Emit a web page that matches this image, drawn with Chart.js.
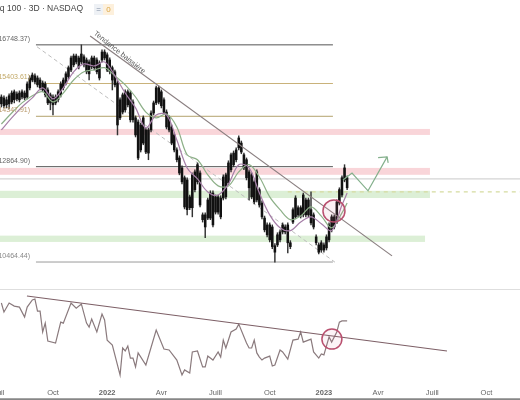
<!DOCTYPE html>
<html><head><meta charset="utf-8">
<style>html,body{margin:0;padding:0;background:#fff;overflow:hidden}canvas{display:block;filter:blur(.45px)}</style>
<script src="https://cdn.jsdelivr.net/npm/chart.js@4/dist/chart.umd.min.js"></script>
</head><body><canvas id="c" width="520" height="400" style="width:520px;height:400px"></canvas>
<script>
const bodyHigh=[14960,14930,14870,15000,15090,15130,15060,15090,15130,15090,15390,15590,15690,15660,15590,15520,15420,15390,15190,15030,14960,14960,15130,15390,15520,15730,15940,16280,16350,16350,16280,16420,16320,16210,16140,16280,16280,16210,16110,16490,16490,16390,16210,15940,15800,15420,14870,15030,15130,15130,15090,14800,14300,14170,14080,14300,13930,13930,14450,14770,15260,15260,15130,14870,14480,14300,14020,13780,13340,13110,12830,12560,12500,12050,12640,12720,12920,12690,11590,11590,11970,12150,12150,12050,12050,12020,12580,12640,12970,13200,13250,13340,13690,13540,13200,13060,12720,12640,12450,12720,12240,11890,11510,11340,11340,11290,10840,11100,11170,11340,11290,11340,10910,11720,12020,11770,11770,12100,11970,11970,11720,11590,11050,10860,10910,10860,11050,11340,11540,11540,11920,12240,12560,12830,12560];
const bodyLow=[14740,14680,14710,14740,14800,14870,14900,14870,14960,14930,14960,15260,15520,15460,15360,15260,15190,15030,14770,14770,14710,14770,14870,15030,15260,15420,15630,15860,16040,16140,15970,16140,16040,15800,15730,15970,15940,15800,15590,16210,16280,15860,15800,15520,15360,14080,14300,14480,14550,14710,14240,14240,13780,13110,13340,13540,13280,13250,13930,14450,14770,14800,14680,14480,14020,13930,13540,13340,13060,12690,12450,11790,11720,11770,11770,12240,12450,11840,11470,11290,11510,11510,11340,11660,11660,11540,12020,12050,12420,12780,12920,13060,13400,13280,12830,12560,12290,12050,11920,11970,11840,11540,11220,11100,10980,10820,10690,10860,10980,11170,11170,10910,10820,11410,11540,11590,11560,11590,11590,11590,11390,11290,10910,10690,10740,10740,10790,10980,11220,11290,11410,11890,12100,12500,12290];
const highs=[15030,15000,14960,15060,15160,15190,15130,15160,15190,15160,15460,15660,15760,15730,15660,15590,15490,15460,15260,15090,15030,15030,15190,15460,15590,15800,16000,16350,16420,16420,16350,16750,16390,16280,16210,16350,16350,16280,16180,16570,16570,16460,16280,16000,15860,15490,14930,15090,15190,15190,15160,14870,14360,14240,14140,14360,13990,13990,14520,14830,15320,15320,15190,14930,14550,14360,14080,13840,13400,13170,12890,12610,12560,12100,12690,12780,12970,12750,11640,11640,12020,12210,12210,12100,12100,12080,12640,12690,13030,13250,13310,13400,13750,13600,13250,13110,12780,12690,12500,12780,12290,11950,11560,11390,11390,11340,10890,11150,11220,11390,11340,11390,10960,11770,12080,11820,11820,12150,12020,12020,12180,11640,11100,10910,10960,10910,11100,11390,11590,11590,11970,12290,12610,12920,12610];
const lows=[14640,14610,14610,14580,14740,14770,14830,14800,14900,14870,14900,15190,15460,15390,15290,15190,15130,14960,14710,14550,14390,14710,14800,14960,15190,15360,15560,15800,15970,16070,15900,16070,15970,15730,15520,15900,15860,15730,15520,16140,16210,15800,15730,15190,15290,13780,14240,14420,14480,14640,14170,14170,13720,13060,13280,13490,13230,13060,13870,14390,14710,14740,14610,14420,13960,13870,13490,13280,13000,12640,12390,11740,11590,11720,11540,12180,12390,11790,11410,11030,11470,11470,11290,11610,11610,11490,11970,12000,12370,12720,12860,13000,13340,13230,12780,12500,11970,12000,11870,11920,11790,11490,11170,11050,10930,10770,10460,10820,10930,11120,11120,10670,10770,11370,11490,11540,11510,11540,11540,11540,11340,11240,10860,10650,10690,10690,10740,10930,11170,11240,11370,11840,12050,12450,12240];
const maBars=[1,5,9,13,17,21,25,29,33,37,41,45,49,53,57,61,65,69,73,77,81,85,89,93,97,101,105,109,113,117,121,125,129,133,135];
const slowMA=[14110,14450,14770,15000,15130,14800,15090,15520,15800,15860,15940,15660,15360,14960,14480,14300,14420,14020,13200,13060,12640,12340,12340,12720,12920,12580,12050,11720,11470,11560,11790,11560,11270,11640,11890];
const fastMA=[13930,14300,14640,14930,15260,14900,15260,15800,16070,16000,16140,15660,15090,14610,13990,14390,14390,13630,12830,12530,12180,12100,12390,12920,12830,12150,11590,11270,11200,11410,11540,11370,11200,11840,12150];
const rsiBars=[1,2,4,6,8,10,11,13,14,15,16,17,18,19,22,24,25,28,30,32,34,35,36,38,40,41,42,44,47,48,49,50,51,52,53,54,57,61,64,66,69,71,72,74,75,77,79,80,81,83,85,86,87,88,90,92,93,96,97,98,99,100,101,102,103,105,106,107,109,110,112,114,116,117,118,121,122,124,125,126,128,129,131,132,133,135];
const rsiValues=[67,62.4,67,65.4,64.9,59.9,64.9,68.5,69,62.9,62.9,52.3,56.8,47.7,46.7,57.3,56.8,67,64.4,66.5,56.8,54.8,58.9,52.3,61.4,58.4,48.2,45.7,30.5,44.2,42.7,45.2,39.1,39.1,34.6,41.7,35.6,53.3,43.7,43.2,38.1,30.5,33.1,31.5,42.2,42.7,34.6,34.6,40.1,38.1,42.2,39.6,48.2,44.2,52.3,53.8,56.3,46.7,44.2,44.2,48.2,41.7,39.6,38.1,39.1,40.1,35.1,35.6,43.2,42.2,38.6,48.2,48.7,52.3,47.2,48.7,42.2,39.1,41.2,40.7,49.8,47.2,52.3,57.3,57.9,57.9];
const tickBars=[0,21,42,63,84,105,126,147,168,189];
const tickLabels=['Juil','Oct','2022','Avr','Juill','Oct','2023','Avr','Juill','Oct'];
const levelPrices=[16748.37,15403.61,14347.91,12864.90,10464.44];
const levelTexts=['(16748.37)','(15403.61)','(14347.91)','(12864.90)','(10464.44)'];
const levelColors=['#555555','#c9b27a','#b3a26d','#555555','#9a9a9a'];
const levelTextColors=['#666666','#c2a866','#b8986a','#666666','#888888'];
const levelBars=[14.4,129.5];
const zoneHigh=[13960,12830,12210,11080];
const zoneLow=[13780,12640,12020,10930];
const zoneEndBars=[167.1,167.1,167.1,165.2];
const zoneColors=['#f9d5d9','#f9d5d9','#dcefd6','#dcefd6'];
const trendBars=[35.4,152.4];
const trendPrices=[17072,10605];
const diagBars=[14.8,130.3];
const diagPrices=[16680,10460];
const rsiTrendBars=[10.9,173.7];
const rsiTrendValues=[70.5,42.7];
const arrowBars=[133.4,136.9,143.1,150.5];
const arrowPrices=[12500,12690,12210,13140];
const arrowHeadBars=[147,150.5,150.9];
const arrowHeadPrices=[13120,13140,12970];
const supportPrice=12530;
const targetPrice=12180;
const xMin=0.465,xMax=202;

const pts=(xs,ys)=>xs.map((x,i)=>({x,y:ys[i]}));
const bars=bodyHigh.map((_,i)=>i+1);
const lineDs=(data,color,width,order,extra={})=>Object.assign({type:'line',data,borderColor:color,borderWidth:width,pointRadius:0,fill:false,order,xAxisID:'x',yAxisID:'y'},extra);

const datasets=[
 {type:'scatter',data:[{x:129.9,y:11690}],pointRadius:11,pointBackgroundColor:'rgba(214,120,150,.10)',pointBorderColor:'#b9506f',pointBorderWidth:1.5,order:0,xAxisID:'x',yAxisID:'y'},
 {type:'scatter',data:[{x:129.1,y:48.7}],pointRadius:10,pointBackgroundColor:'rgba(214,120,150,.08)',pointBorderColor:'#b9506f',pointBorderWidth:1.5,order:0,xAxisID:'x',yAxisID:'rsi'},
 lineDs(pts(arrowBars,arrowPrices),'#84b08c',1.2,1),
 lineDs(pts(arrowHeadBars,arrowHeadPrices),'#84b08c',1.2,1),
 lineDs(pts(trendBars,trendPrices),'#8a7f80',1.2,2),
 lineDs(pts(rsiTrendBars,rsiTrendValues),'#7d5f66',1.1,2,{yAxisID:'rsi'}),
 lineDs(pts(rsiBars,rsiValues),'#8a7a7d',1.2,2,{yAxisID:'rsi'}),
 lineDs(pts(maBars,fastMA),'#a67fa8',1.2,3,{tension:.35}),
 lineDs(pts(maBars,slowMA),'#8db088',1.2,3,{tension:.35}),
 {type:'bar',data:bars.map((x,i)=>({x,y:[bodyLow[i],bodyHigh[i]]})),backgroundColor:'#111',barThickness:1.9,grouped:false,order:4,xAxisID:'x',yAxisID:'y'},
 {type:'bar',data:bars.map((x,i)=>({x,y:[lows[i],highs[i]]})),backgroundColor:'#333',barThickness:0.8,grouped:false,order:5,xAxisID:'x',yAxisID:'y'},
 lineDs(pts(diagBars,diagPrices),'#bdbdbd',1,6,{borderDash:[4,3]}),
 lineDs(pts([xMin,xMax],[supportPrice,supportPrice]),'#d4d4d4',1.3,7),
 lineDs(pts([112,xMax],[targetPrice,targetPrice]),'#d5dca0',1.2,6,{borderDash:[4,4]}),
 ...levelPrices.map((p,i)=>lineDs(pts(levelBars,[p,p]),levelColors[i],1,7))
];

const decor={id:'decor',
 beforeDatasetsDraw(ch){
  const {ctx,scales:{x,y}}=ch;
  zoneHigh.forEach((h,i)=>{
   const t=y.getPixelForValue(h),b=y.getPixelForValue(zoneLow[i]);
   ctx.fillStyle=zoneColors[i];
   ctx.fillRect(x.getPixelForValue(xMin),t,x.getPixelForValue(zoneEndBars[i])-x.getPixelForValue(xMin),b-t);
  });
  ctx.fillStyle='#dedede';ctx.fillRect(0,289,ch.width,1);
  ctx.fillStyle='#6a6a6a';ctx.fillRect(0,398.4,ch.width,1.4);
 },
 afterDraw(ch){
  const {ctx,scales:{y}}=ch;
  ctx.save();
  ctx.textBaseline='middle';ctx.textAlign='right';
  ctx.font='7px "Liberation Sans"';
  levelTexts.forEach((t,i)=>{ctx.fillStyle=levelTextColors[i];ctx.fillText(t,30,y.getPixelForValue(levelPrices[i])-6);});
  ctx.font='8.5px "Liberation Sans"';ctx.fillStyle='#444';
  ctx.fillText('Nasdaq 100 · 3D · NASDAQ',83,9);
  ctx.fillStyle='#eef1f5';ctx.fillRect(94,4,9,11);
  ctx.fillStyle='#fdf0dc';ctx.fillRect(103,4,11,11);
  ctx.textAlign='center';ctx.font='8px "Liberation Sans"';
  ctx.fillStyle='#7f8ea3';ctx.fillText('=',98.5,9.5);
  ctx.fillStyle='#d9a441';ctx.fillText('0',108.5,9.5);
  ctx.translate(119.5,52.5);ctx.rotate(38.5*Math.PI/180);
  ctx.font='7.4px "Liberation Sans"';ctx.fillStyle='#555';
  ctx.fillText('Tendance baissière',0,0);
  ctx.restore();
 }};

new Chart(document.getElementById('c'),{
 data:{datasets},
 plugins:[decor],
 options:{responsive:false,animation:false,devicePixelRatio:1,events:[],
  layout:{padding:0,autoPadding:false},
  plugins:{legend:{display:false},tooltip:{enabled:false},title:{display:false}},
  scales:{
   x:{type:'linear',axis:'x',min:xMin,max:xMax,offset:false,position:'bottom',
    grid:{display:false},border:{display:false},
    afterBuildTicks(s){s.ticks=tickBars.map(v=>({value:v}));},
    afterFit(s){s.height=20;s.paddingLeft=0;s.paddingRight=0;},
    ticks:{autoSkip:false,maxRotation:0,minRotation:0,padding:0,color:'#666',
     callback:v=>tickLabels[tickBars.indexOf(v)],
     font:c=>({family:'Liberation Sans',size:7.5,weight:/^20/.test(tickLabels[c.index]||'')?'bold':'normal'})}},
   y:{type:'logarithmic',axis:'y',min:8105,max:18457,bounds:'data',display:false},
   rsi:{type:'linear',axis:'y',min:28,max:220.4,bounds:'data',display:false}
  }}
});
</script></body></html>
